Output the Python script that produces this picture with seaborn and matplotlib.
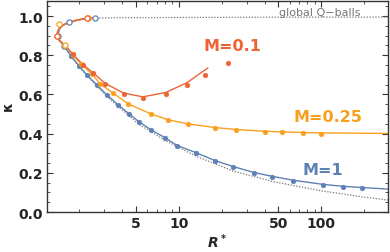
import numpy as np
import matplotlib
matplotlib.use("Agg")
import matplotlib.pyplot as plt
import seaborn as sns
from matplotlib.ticker import FixedLocator, NullFormatter

# colores de las familias
c_red = "#EB6436"
c_orange = "#F8A01E"
c_blue = "#5E81B5"
c_gray = "#777777"

# Q-balls globales (curva punteada)
glob_r = [294, 100, 30, 10, 4, 2.59, 2.0, 1.70, 1.55, 1.46, 1.42, 1.43, 1.50, 1.57, 1.76, 2.0,
          3.14, 5.25, 8.0, 13.2, 23.9, 45.4, 100, 200, 294]
glob_k = [0.995, 0.995, 0.994, 0.993, 0.992, 0.990, 0.982, 0.969, 0.955, 0.935, 0.91, 0.885, 0.865,
          0.845, 0.792, 0.740, 0.588, 0.448, 0.366, 0.285, 0.210, 0.156, 0.108, 0.076, 0.061]

# M=1
blue_line_r = [2.59, 2.0, 1.70, 1.55, 1.46, 1.42, 1.43, 1.50, 1.57, 1.76, 2.0, 2.27, 2.67, 3.14,
               3.74, 4.47, 5.25, 6.37, 7.98, 9.7, 13.2, 17.9, 23.9, 33.5, 45.4, 63.7, 103, 143,
               194, 294]
blue_line_k = [0.990, 0.982, 0.969, 0.955, 0.935, 0.91, 0.885, 0.865, 0.847, 0.796, 0.745, 0.699,
               0.648, 0.597, 0.548, 0.502, 0.461, 0.420, 0.380, 0.340, 0.303, 0.263, 0.233,
               0.202, 0.182, 0.162, 0.141, 0.131, 0.125, 0.117]
blue_open_r = [2.59, 1.70, 1.43, 1.57]
blue_open_k = [0.990, 0.969, 0.898, 0.847]
blue_pts_r = [1.76, 2.0, 2.27, 2.67, 3.14, 3.74, 4.47, 5.25, 6.37, 7.98, 9.7, 13.2, 17.9, 23.9,
              33.5, 45.4, 63.7, 103, 143, 194]
blue_pts_k = [0.796, 0.745, 0.699, 0.648, 0.597, 0.546, 0.500, 0.459, 0.418, 0.378, 0.337, 0.301,
              0.260, 0.230, 0.199, 0.179, 0.158, 0.138, 0.128, 0.122]

# M=0.25
orange_line_r = [2.45, 2.31, 1.9, 1.62, 1.47, 1.41, 1.40, 1.45, 1.60, 1.80, 2.07, 2.46, 2.80,
                 3.45, 4.40, 6.37, 8.38, 11.6, 18.1, 25.4, 40.6, 53.3, 74.9, 100, 294]
orange_line_k = [0.993, 0.990, 0.978, 0.962, 0.945, 0.92, 0.898, 0.875, 0.850, 0.803, 0.755,
                 0.704, 0.655, 0.608, 0.553, 0.501, 0.471, 0.450, 0.431, 0.421, 0.412, 0.409,
                 0.406, 0.404, 0.401]
orange_open_r = [2.31, 1.45, 1.40, 1.60]
orange_open_k = [0.990, 0.959, 0.898, 0.850]
orange_pts_r = [1.80, 2.07, 2.46, 2.80, 3.45, 4.40, 6.37, 8.38, 11.6, 18.1, 25.4, 40.6, 53.3,
                74.9, 100]
orange_pts_k = [0.803, 0.755, 0.704, 0.653, 0.607, 0.551, 0.500, 0.469, 0.449, 0.429, 0.418,
                0.408, 0.408, 0.403, 0.398]

# M=0.1
red_line_r = [2.27, 1.9, 1.62, 1.47, 1.41, 1.40, 1.45, 1.60, 1.80, 2.13, 2.51, 3.04, 4.10, 5.60,
              8.11, 11.4, 16.0]
red_line_k = [0.990, 0.978, 0.962, 0.945, 0.92, 0.898, 0.875, 0.852, 0.806, 0.752, 0.710, 0.657,
              0.607, 0.588, 0.610, 0.660, 0.735]
red_open_r = [2.27, 1.40]
red_open_k = [0.990, 0.898]
red_pts_r = [1.80, 2.13, 2.51, 3.04, 4.10, 5.60, 8.11, 11.4, 15.3, 22.0]
red_pts_k = [0.806, 0.750, 0.709, 0.653, 0.602, 0.582, 0.602, 0.650, 0.699, 0.760]

# estilo
sns.set_style("ticks")
plt.rcParams['font.family'] = ['DejaVu Sans']
plt.rcParams['font.weight'] = 'bold'
plt.rcParams['mathtext.fontset'] = 'custom'
plt.rcParams['mathtext.it'] = 'DejaVu Sans:bold:italic'
plt.rcParams['mathtext.rm'] = 'DejaVu Sans:bold'

fig = plt.figure(figsize=(3.9, 2.53), dpi=100)
ax = fig.add_axes([0.1205, 0.158, 0.8745, 0.834])

# curva punteada
sns.lineplot(x=glob_r, y=glob_k, sort=False, estimator=None, ax=ax,
             color=c_gray, lw=0.9, linestyle=(0, (1, 1.3)))

families = [
    (blue_line_r, blue_line_k, blue_open_r, blue_open_k, blue_pts_r, blue_pts_k, c_blue),
    (orange_line_r, orange_line_k, orange_open_r, orange_open_k, orange_pts_r, orange_pts_k, c_orange),
    (red_line_r, red_line_k, red_open_r, red_open_k, red_pts_r, red_pts_k, c_red),
]
for lr, lk, opr, opk, pr, pk, col in families:
    sns.lineplot(x=lr, y=lk, sort=False, estimator=None, ax=ax, color=col, lw=1.0)
    sns.scatterplot(x=pr, y=pk, ax=ax, color=col, s=12, edgecolor=col, linewidth=0.3, zorder=3)
    sns.scatterplot(x=opr, y=opk, ax=ax, facecolor='white', edgecolor=col, s=14,
                    linewidth=0.9, zorder=3)

ax.set_xscale('log')
ax.set_xlim(1.19, 294)
ax.set_ylim(0, 1.077)

ax.xaxis.set_major_locator(FixedLocator([5, 10, 50, 100]))
ax.xaxis.set_minor_locator(FixedLocator([2, 3, 4, 6, 7, 8, 9, 20, 30, 40, 60, 70, 80, 90, 200]))
ax.xaxis.set_minor_formatter(NullFormatter())
ax.set_xticklabels(['5', '10', '50', '100'])
ax.yaxis.set_major_locator(FixedLocator([0, 0.2, 0.4, 0.6, 0.8, 1.0]))
ax.yaxis.set_minor_locator(FixedLocator(np.arange(0.05, 1.07, 0.05)))
ax.set_yticklabels(['0.0', '0.2', '0.4', '0.6', '0.8', '1.0'])

ax.tick_params(which='both', direction='in', top=True, right=True, color='#333333',
               labelsize=10, pad=3)
ax.tick_params(which='major', length=4, width=0.8)
ax.tick_params(which='minor', length=2.5, width=0.6)
for sp in ax.spines.values():
    sp.set_visible(True)
    sp.set_color('#333333')
    sp.set_linewidth(1.0)

ax.set_xlabel('$R^*$', fontsize=10, labelpad=1)
ax.set_ylabel('κ', fontsize=10, fontweight='bold')
ax.yaxis.set_label_coords(-0.093, 0.507)

fig.text(0.821, 0.949, 'global Q\u2212balls', ha='center', va='center',
         color=c_gray, fontsize=8, fontweight='normal')
fig.text(0.595, 0.818, 'M=0.1', color=c_red, fontsize=11.5, fontweight='bold',
         ha='center', va='center')
fig.text(0.841, 0.536, 'M=0.25', color=c_orange, fontsize=11.5, fontweight='bold',
         ha='center', va='center')
fig.text(0.828, 0.328, 'M=1', color=c_blue, fontsize=11.5, fontweight='bold',
         ha='center', va='center')

fig.savefig('out.png', dpi=100)
